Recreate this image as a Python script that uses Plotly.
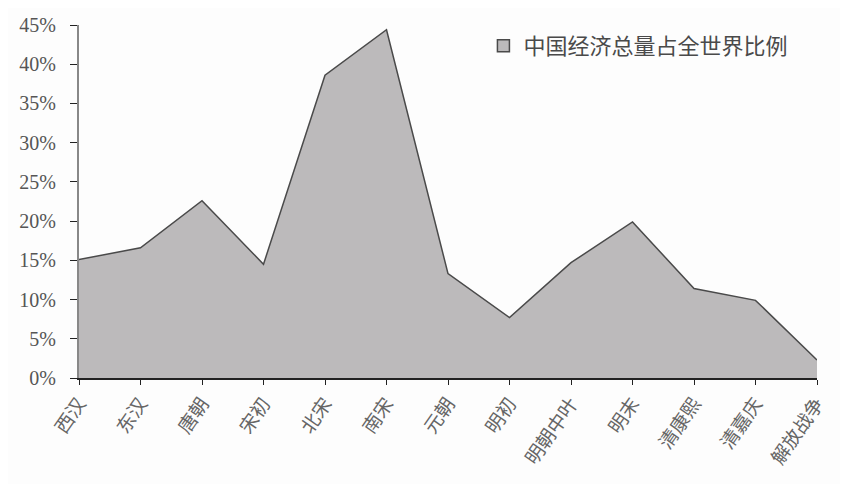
import plotly.graph_objects as go

categories = ["西汉", "东汉", "唐朝", "宋初", "北宋", "南宋", "元朝", "明初",
              "明朝中叶", "明末", "清康熙", "清嘉庆", "解放战争"]
share_pct = [15.1, 16.6, 22.6, 14.5, 38.6, 44.4, 13.3, 7.7, 14.7, 19.9, 11.4, 9.9, 2.3]
y_ticks = [0, 5, 10, 15, 20, 25, 30, 35, 40, 45]
y_tick_labels = [f"{v}%" for v in y_ticks]
series_name = "中国经济总量占全世界比例"

xs = list(range(len(categories)))

fig = go.Figure()
fig.add_trace(go.Scatter(
    x=xs, y=share_pct, mode="lines", fill="tozeroy",
    fillcolor="#bcbabb", line=dict(color="#4a4a4a", width=1.5),
    showlegend=False, hoverinfo="skip",
))
fig.add_trace(go.Bar(
    x=[None], y=[None], name=series_name,
    marker=dict(color="#bcbabb", line=dict(color="#4a4a4a", width=1.5)),
    showlegend=True,
))

fig.update_layout(
    width=840, height=476,
    margin=dict(l=71, r=31, t=17, b=106, autoexpand=False),
    paper_bgcolor="#fdfdfd", plot_bgcolor="#fdfdfd",
    font=dict(family="Liberation Serif, Noto Sans CJK SC", color="#555555"),
    legend=dict(
        x=0.548, y=1.0, xanchor="left", yanchor="top",
        bgcolor="rgba(0,0,0,0)",
        font=dict(size=22, family="Noto Sans CJK SC", color="#4a4a4a"),
        itemwidth=30,
    ),
    xaxis=dict(
        range=[0, len(categories) - 1],
        tickmode="array", tickvals=xs, ticktext=categories,
        tickangle=-55, automargin=False,
        tickfont=dict(size=19, family="Noto Sans CJK SC", color="#666666"),
        ticks="outside", ticklen=5, tickcolor="#222222",
        showline=True, linecolor="#222222", linewidth=2,
        showgrid=False, zeroline=False,
    ),
    yaxis=dict(
        range=[0, 45], automargin=False,
        tickmode="array", tickvals=y_ticks, ticktext=y_tick_labels,
        tickfont=dict(size=20, family="Liberation Serif", color="#555555"),
        ticks="outside", ticklen=7, tickcolor="#222222",
        ticklabelstandoff=10,
        showline=True, linecolor="#888888", linewidth=2,
        showgrid=False, zeroline=False,
    ),
)

fig.write_html("out.html")
